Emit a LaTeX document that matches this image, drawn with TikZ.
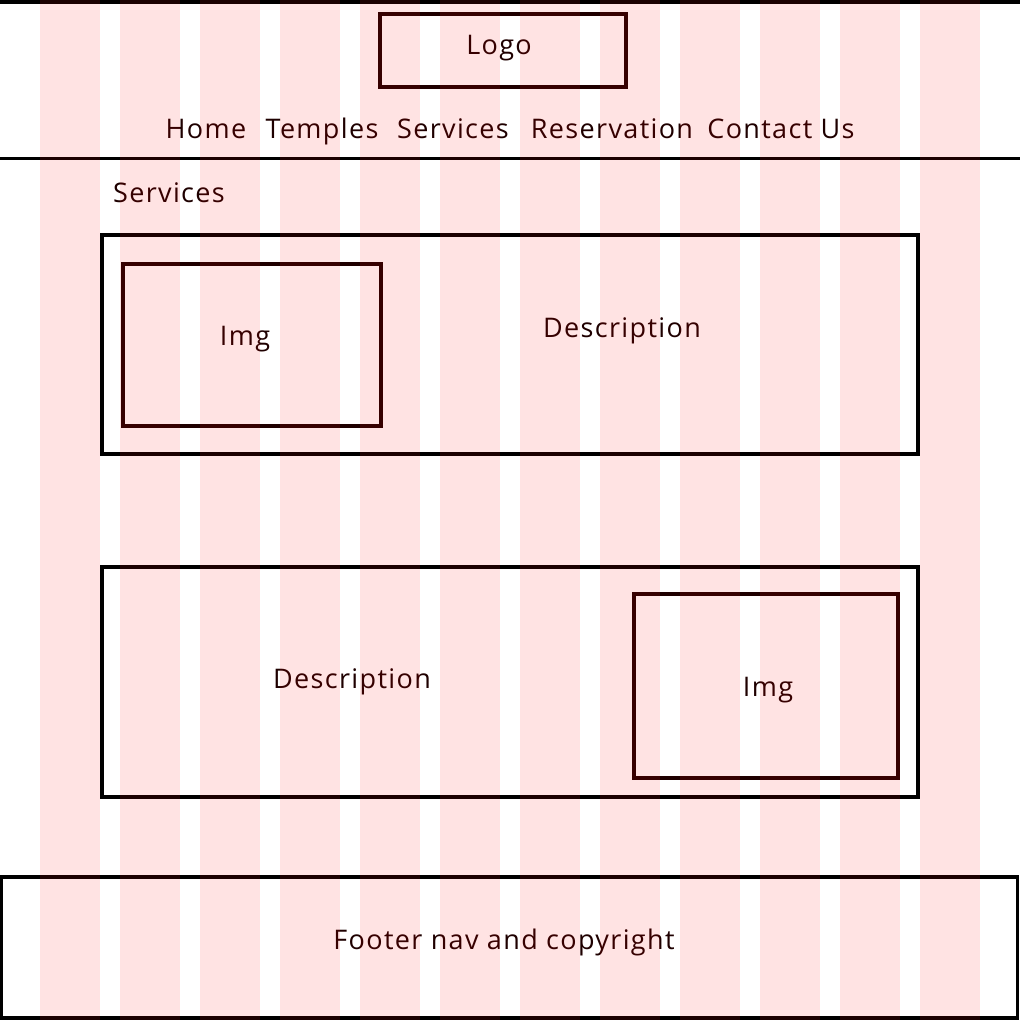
\documentclass[tikz,border=0pt]{standalone}
\usepackage{fontspec}
\setmainfont{Open Sans}[LetterSpace=5]
\usetikzlibrary{positioning}
\definecolor{ink}{RGB}{30,0,0}
\tikzstyle{frame}=[draw=black,line width=3.5pt,rectangle,inner sep=0pt]
\tikzstyle{pane}=[draw=ink,line width=3.5pt,rectangle,inner sep=0pt]
\tikzstyle{label}=[anchor=base,text=ink,font=\fontsize{27}{30}\selectfont]
\tikzstyle{column}=[fill=red,opacity=0.11]

\begin{document}
\begin{tikzpicture}[x=1pt,y=-1pt]
  \useasboundingbox (0,0) rectangle (1020,1020);
  % header
  \draw[line width=3.5pt] (0,2) -- (1020,2);
  \draw[line width=3.5pt] (0,158.5) -- (1020,158.5);
  \node[pane, minimum width=246pt, minimum height=73pt] (logobox) at (503,50.5) {};
  \node[label] (logo) at (499,54) {Logo};
  \node[label] (home) at (206,138) {Home};
  \node[label] (temples) at (322,138) {Temples};
  \node[label] (services) at (453,138) {Services};
  \node[label] (reserve) at (612,138) {Reservation};
  \node[label] (contact) at (781,138) {Contact Us};
  % content
  \node[label] (title) at (169,202) {Services};
  \node[frame, minimum width=816pt, minimum height=219pt] (card1) at (510,344.5) {};
  \node[pane, minimum width=258pt, minimum height=162pt] (img1) at (252,345) {};
  \node[label] at (245,345) {Img};
  \node[label] (desc1) at (622,337) {Description};
  \node[frame, minimum width=816pt, minimum height=230pt] (card2) at (510,682) {};
  \node[pane, minimum width=264pt, minimum height=184pt] (img2) at (766,686) {};
  \node[label] at (768,696) {Img};
  \node[label] (desc2) at (352,688) {Description};
  % footer
  \node[frame, minimum width=1016pt, minimum height=141pt] (footer) at (509.5,947.5) {};
  \node[label] (foottext) at (504,949) {Footer nav and copyright};
  % grid columns
  \foreach \i in {0,...,11}
    \fill[column] ({40+80*\i},0) rectangle ++(60,1020);
\end{tikzpicture}
\end{document}
